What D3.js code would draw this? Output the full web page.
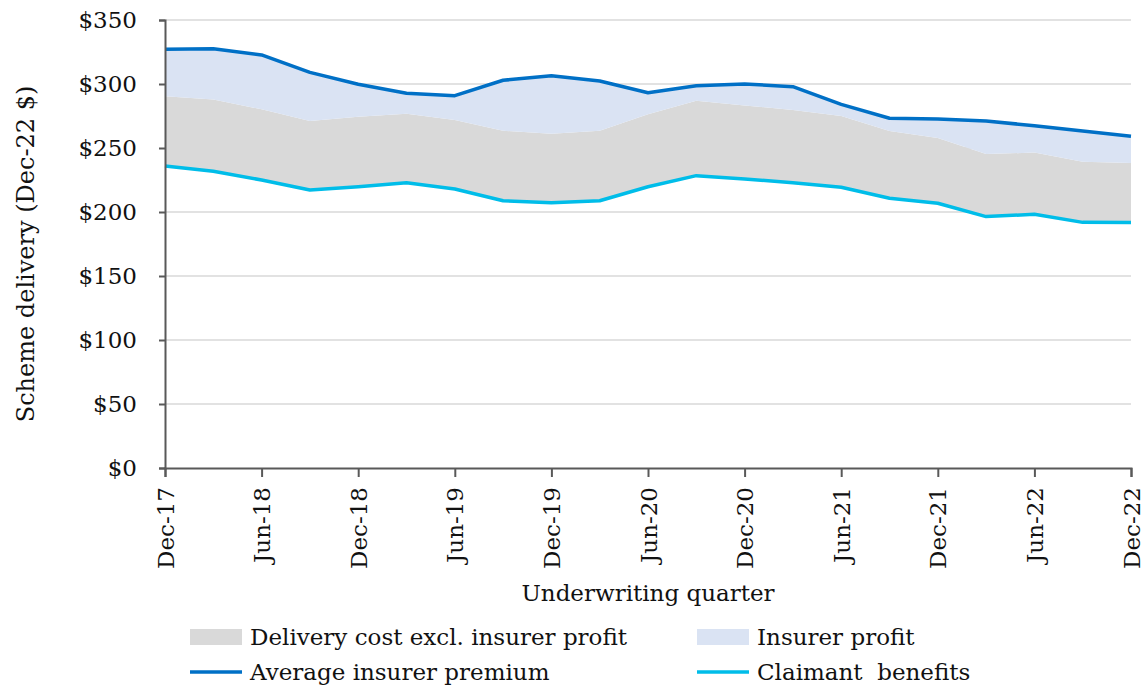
<!DOCTYPE html>
<html>
<head>
<meta charset="utf-8">
<script src="https://cdn.jsdelivr.net/npm/d3@7"></script>
<style>
  html, body { margin: 0; padding: 0; background: #ffffff; }
  svg { display: block; }
</style>
</head>
<body>
<svg id="chart" width="1146" height="691"></svg>
<script>
const quarters = ["Dec-17","Mar-18","Jun-18","Sep-18","Dec-18","Mar-19","Jun-19","Sep-19","Dec-19","Mar-20","Jun-20","Sep-20","Dec-20","Mar-21","Jun-21","Sep-21","Dec-21","Mar-22","Jun-22","Sep-22","Dec-22"];
const premium = [327.1,327.6,322.7,309.1,299.8,292.7,290.9,302.9,306.5,302.3,293.2,298.7,300.0,297.9,284.1,273.2,272.7,271.1,267.4,263.3,259.1];
const deliveryCost = [290.4,287.8,280.2,271.1,274.5,276.8,271.9,263.5,261.2,263.5,276.3,287.0,283.3,279.7,275.0,263.3,257.8,245.3,246.4,239.3,238.3];
const claimant = [235.9,231.8,225.0,217.2,219.8,222.9,218.0,208.8,207.3,208.8,219.7,228.4,225.8,222.9,219.3,210.7,206.8,196.4,198.2,191.9,191.7];
const xTickLabels = ["Dec-17","Jun-18","Dec-18","Jun-19","Dec-19","Jun-20","Dec-20","Jun-21","Dec-21","Jun-22","Dec-22"];
const yTicks = [0,50,100,150,200,250,300,350];
const legendLabels = ["Delivery cost excl. insurer profit","Insurer profit","Average insurer premium","Claimant  benefits"];

const FONT = "'DejaVu Serif', serif";
const FS = 23;
const C_GREY = "#d9d9d9", C_LBLUE = "#dae3f3", C_DBLUE = "#0070c6", C_CYAN = "#00bde9";
const AXIS = "#595959";
const TXT = "#111";

const svg = d3.select("#chart");
const pL = 165, pR = 1131, pT = 20, pB = 468;

const x = d3.scalePoint().domain(quarters).range([pL, pR]);
const y = d3.scaleLinear().domain([0, 350]).range([pB, pT]);

const data = quarters.map((q, i) => ({q, p: premium[i], d: deliveryCost[i], c: claimant[i]}));

// gridlines
svg.append("g").selectAll("line").data(yTicks.filter(v => v > 0)).join("line")
  .attr("x1", pL).attr("x2", pR)
  .attr("y1", d => y(d)).attr("y2", d => y(d))
  .attr("stroke", "#d9d9d9").attr("stroke-width", 1.5);

// areas
const areaGrey = d3.area().x(d => x(d.q)).y0(d => y(d.c)).y1(d => y(d.d));
const areaBlue = d3.area().x(d => x(d.q)).y0(d => y(d.d)).y1(d => y(d.p));
svg.append("path").datum(data).attr("d", areaGrey).attr("fill", C_GREY);
svg.append("path").datum(data).attr("d", areaBlue).attr("fill", C_LBLUE);

// lines
const lineP = d3.line().x(d => x(d.q)).y(d => y(d.p));
const lineC = d3.line().x(d => x(d.q)).y(d => y(d.c));
svg.append("path").datum(data).attr("d", lineC).attr("fill", "none")
  .attr("stroke", C_CYAN).attr("stroke-width", 3.5).attr("stroke-linejoin", "round");
svg.append("path").datum(data).attr("d", lineP).attr("fill", "none")
  .attr("stroke", C_DBLUE).attr("stroke-width", 3.5).attr("stroke-linejoin", "round");

// y axis
const yAxis = d3.axisLeft(y).tickValues(yTicks).tickFormat(d => "$" + d).tickSize(6).tickPadding(22);
const gy = svg.append("g").attr("transform", `translate(${pL},0)`).call(yAxis);
gy.select(".domain").attr("stroke", AXIS).attr("stroke-width", 2);
gy.selectAll(".tick line").attr("stroke", AXIS).attr("stroke-width", 2);
gy.selectAll("text").attr("font-family", FONT).attr("font-size", FS).attr("fill", TXT);

// x axis
const xAxis = d3.axisBottom(x).tickValues(xTickLabels).tickSize(9).tickPadding(8);
const gx = svg.append("g").attr("transform", `translate(0,${pB})`).call(xAxis);
gx.select(".domain").attr("stroke", AXIS).attr("stroke-width", 2);
gx.selectAll(".tick line").attr("stroke", AXIS).attr("stroke-width", 2);
gx.selectAll("text").attr("font-family", FONT).attr("font-size", FS).attr("fill", TXT)
  .attr("transform", "rotate(-90)").attr("text-anchor", "end")
  .attr("x", -19).attr("y", 0).attr("dy", "0.35em");

// axis titles
svg.append("text").attr("transform", `translate(26,254) rotate(-90)`)
  .attr("text-anchor", "middle").attr("dy", "0.35em")
  .attr("font-family", FONT).attr("font-size", 24).attr("fill", TXT)
  .text("Scheme delivery (Dec-22 $)");
svg.append("text").attr("x", (pL + pR) / 2).attr("y", 601)
  .attr("text-anchor", "middle")
  .attr("font-family", FONT).attr("font-size", FS).attr("fill", TXT)
  .text("Underwriting quarter");

// legend
const legend = [
  {label: legendLabels[0], type: "rect", color: C_GREY, x: 190, y: 637},
  {label: legendLabels[1], type: "rect", color: C_LBLUE, x: 697, y: 637},
  {label: legendLabels[2], type: "line", color: C_DBLUE, x: 190, y: 672},
  {label: legendLabels[3], type: "line", color: C_CYAN, x: 697, y: 672}
];
const lg = svg.append("g").selectAll("g").data(legend).join("g")
  .attr("transform", d => `translate(${d.x},${d.y})`);
lg.filter(d => d.type === "rect").append("rect")
  .attr("x", 0).attr("y", -8).attr("width", 52).attr("height", 16).attr("fill", d => d.color);
lg.filter(d => d.type === "line").append("line")
  .attr("x1", 0).attr("x2", 52).attr("y1", 0).attr("y2", 0)
  .attr("stroke", d => d.color).attr("stroke-width", 3.5);
lg.append("text").attr("x", 60).attr("dy", "0.35em")
  .attr("font-family", FONT).attr("font-size", FS).attr("fill", TXT)
  .attr("xml:space", "preserve").style("white-space", "pre")
  .text(d => d.label);
</script>
</body>
</html>
